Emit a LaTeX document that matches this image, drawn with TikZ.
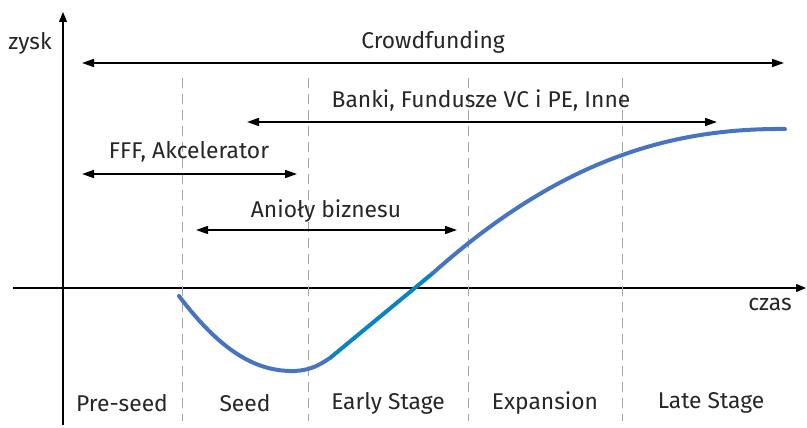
\documentclass[tikz,border=0pt]{standalone}
\usepackage{fontspec}
\setmainfont{Fira Sans}
\usetikzlibrary{arrows.meta}
\definecolor{curveblue}{RGB}{70,116,192}
\definecolor{curveteal}{RGB}{10,132,192}
\definecolor{dashgray}{RGB}{165,165,165}
\tikzset{
axisline/.style={
	draw,
	line width=1.2pt,
	-{Triangle[length=10pt,width=8pt]}
},
span/.style={
	draw,
	line width=1.6pt,
	{Triangle[length=12pt,width=8pt]}-{Triangle[length=12pt,width=8pt]}
},
border/.style={
	draw=dashgray,
	line width=1pt,
	dash pattern=on 10pt off 6pt
},
lbl/.style={
	font=\fontsize{22.8}{25}\selectfont,
	text=black!85,
	inner sep=0pt
}
}
\begin{document}
\begin{tikzpicture}[x=1pt,y=-1pt]
		\useasboundingbox (0,0) rectangle (807,428);
		% axes
		\coordinate (ybot) at (63,425);
		\coordinate (ytop) at (63,12);
		\coordinate (xleft) at (13,288);
		\coordinate (xright) at (806,288);
		\draw[axisline] (ybot) -- (ytop);
		\draw[axisline] (xleft) -- (xright);
		\node[lbl] (zysk) at (30,43) {zysk};
		\node[lbl] (czas) at (770,304) {czas};
		% stage borders
		\foreach \x [count=\i] in {182,308,468,622}{
			\coordinate (b\i top) at (\x,78);
			\coordinate (b\i bot) at (\x,421);
			\draw[border] (b\i top) -- (b\i bot);
		}
		% stages
		\node[lbl] (preseed) at (122,403) {Pre-seed};
		\node[lbl] (seed) at (245,403) {Seed};
		\node[lbl] (early) at (388,403) {Early Stage};
		\node[lbl] (expansion) at (545,403) {Expansion};
		\node[lbl] (late) at (711,403) {Late Stage};
		% financing spans
		\coordinate (cf1) at (82,63);
		\coordinate (cf2) at (784,63);
		\draw[span] (cf1) -- (cf2);
		\node[lbl] (crowd) at (433,42) {Crowdfunding};
		\coordinate (bk1) at (247,122);
		\coordinate (bk2) at (717,122);
		\draw[span] (bk1) -- (bk2);
		\node[lbl] (banki) at (481,101) {Banki, Fundusze VC i PE, Inne};
		\coordinate (ff1) at (82,174);
		\coordinate (ff2) at (297,174);
		\draw[span] (ff1) -- (ff2);
		\node[lbl] (fff) at (189,152) {FFF, Akcelerator};
		\coordinate (an1) at (196,230);
		\coordinate (an2) at (457,230);
		\draw[span] (an1) -- (an2);
		\node[lbl] (anioly) at (326,211) {Anioły biznesu};
		% profit curve
		\coordinate (c0) at (179,296);
		\coordinate (cmin) at (295,371);
		\coordinate (c1) at (330,358);
		\coordinate (c2) at (433,273);
		\coordinate (cend) at (785,129);
		\draw[curveblue,line width=4pt,line cap=round] (c0) .. controls (220,350) and (255,372) .. (cmin)
			.. controls (310,370) and (318,366) .. (c1);
		\draw[curveteal,line width=4pt] (c1) -- (c2);
		\draw[curveblue,line width=4pt,line cap=round] (c2) .. controls (560,160) and (670,128) .. (cend);
\end{tikzpicture}
\end{document}
